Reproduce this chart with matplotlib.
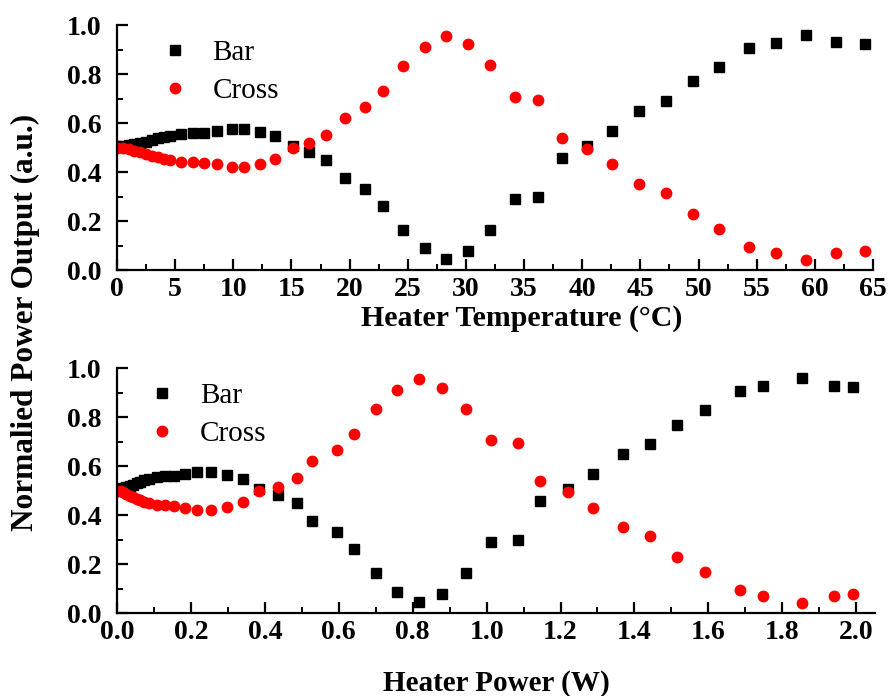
import matplotlib
matplotlib.use("Agg")
import matplotlib.pyplot as plt
from matplotlib.ticker import MultipleLocator

# heater temperature (degC) and heater power (W) for each measurement
temp = [0, 0.5, 1, 1.5, 2, 2.5, 3, 3.5, 4, 4.6, 5.5, 6.5, 7.5, 8.6, 9.9, 10.9,
        12.3, 13.6, 15.1, 16.5, 18.0, 19.6, 21.3, 22.9, 24.6, 26.5, 28.3, 30.2,
        32.1, 34.2, 36.2, 38.3, 40.4, 42.6, 44.9, 47.2, 49.5, 51.8, 54.3, 56.7,
        59.2, 61.8, 64.3]
power = [0, 0.008, 0.016, 0.025, 0.034, 0.043, 0.053, 0.063, 0.073, 0.087,
         0.108, 0.13, 0.155, 0.184, 0.217, 0.254, 0.297, 0.34, 0.385, 0.435,
         0.486, 0.527, 0.595, 0.64, 0.701, 0.757, 0.818, 0.879, 0.944, 1.012,
         1.084, 1.145, 1.221, 1.287, 1.369, 1.441, 1.515, 1.591, 1.686, 1.749,
         1.853, 1.939, 1.991]
bar = [0.505, 0.508, 0.512, 0.516, 0.52, 0.524, 0.53, 0.537, 0.542, 0.547,
       0.554, 0.558, 0.56, 0.567, 0.576, 0.576, 0.565, 0.547, 0.506, 0.483,
       0.449, 0.377, 0.331, 0.263, 0.163, 0.088, 0.044, 0.079, 0.163, 0.29,
       0.30, 0.456, 0.507, 0.569, 0.65, 0.69, 0.77, 0.829, 0.906, 0.928,
       0.958, 0.929, 0.922]
cross = [0.50, 0.498, 0.493, 0.487, 0.48, 0.473, 0.466, 0.46, 0.454, 0.448,
         0.442, 0.44, 0.438, 0.431, 0.42, 0.422, 0.433, 0.452, 0.497, 0.517,
         0.551, 0.622, 0.667, 0.732, 0.834, 0.911, 0.955, 0.921, 0.835, 0.707,
         0.694, 0.54, 0.494, 0.431, 0.351, 0.313, 0.229, 0.169, 0.095, 0.071,
         0.041, 0.071, 0.079]
yticks = [0, 0.2, 0.4, 0.6, 0.8, 1.0]
temp_ticks = list(range(0, 66, 5))
power_ticks = [round(0.2 * i, 1) for i in range(11)]

plt.rcParams['font.family'] = ['Liberation Serif', 'DejaVu Serif']

fig = plt.figure(figsize=(8.93, 6.96), dpi=100)
ax1 = fig.add_axes([0.131, 0.612, 0.8466, 0.352])
ax2 = fig.add_axes([0.131, 0.119, 0.8489, 0.352])


def style(ax, xmax, xticks, xfmt, xminor, leg_x):
    ax.set_ylim(0, 1.0)
    ax.set_xlim(0, xmax)
    ax.set_xticks(xticks)
    ax.set_xticklabels([xfmt % v for v in xticks], fontweight='bold')
    ax.xaxis.set_minor_locator(MultipleLocator(xminor))
    ax.set_yticks(yticks)
    ax.set_yticklabels(['%.1f' % v for v in yticks], fontweight='bold')
    ax.yaxis.set_minor_locator(MultipleLocator(0.1))
    for s in ['top', 'right']:
        ax.spines[s].set_visible(False)
    for s in ['left', 'bottom']:
        ax.spines[s].set_linewidth(1.6)
    ax.tick_params(which='major', direction='in', length=8, width=1.6,
                   labelsize=20)
    ax.tick_params(axis='y', which='major', pad=11)
    ax.tick_params(axis='x', which='major', pad=5)
    ax.tick_params(which='minor', direction='in', length=4, width=1.4)
    ax.legend(loc='upper left', bbox_to_anchor=(leg_x, 0.94), frameon=False,
              prop={'size': 21}, handlelength=1.0, handletextpad=0.8,
              labelspacing=0.4, borderpad=0, borderaxespad=0)


ax1.plot(temp, bar, 's', color='black', ms=7, label='Bar')
ax1.plot(temp, cross, 'o', color='red', ms=7.5, label='Cross')
style(ax1, 65, temp_ticks, '%d', 2.5, 0.057)
ax1.set_xlabel('Heater Temperature (°C)', fontsize=21.5, fontweight='bold',
               labelpad=2)
ax1.xaxis.label.set_x(0.535)

ax2.plot(power, bar, 's', color='black', ms=7, label='Bar')
ax2.plot(power, cross, 'o', color='red', ms=7.5, label='Cross')
style(ax2, 2.051, power_ticks, '%.1f', 0.1, 0.040)
ax2.set_xlabel('Heater Power (W)', fontsize=21, fontweight='bold', labelpad=18)

fig.text(0.028, 0.537, 'Normalied Power Output (a.u.)', rotation=90,
         ha='center', va='center', fontsize=22.5, fontweight='bold')

fig.savefig('out.png', dpi=100)
